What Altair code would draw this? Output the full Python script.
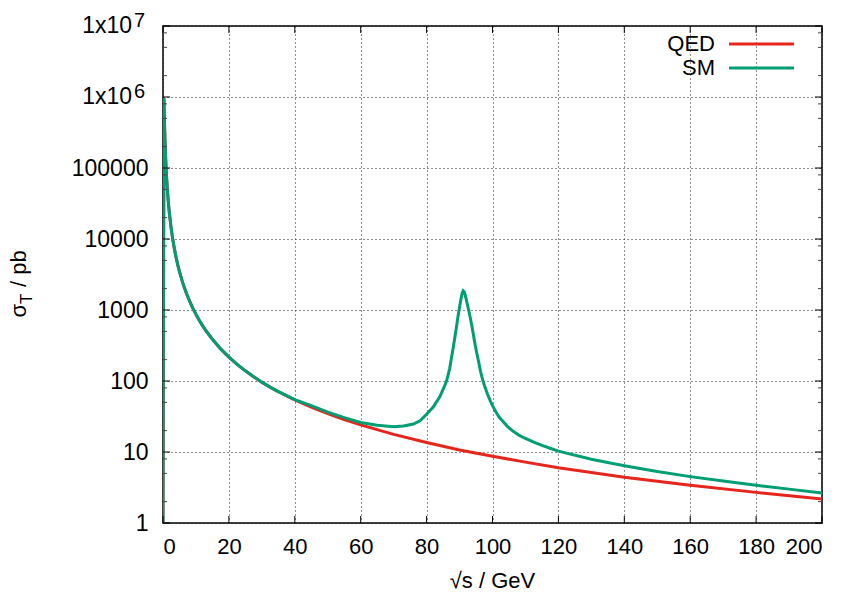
import altair as alt
import pandas as pd

# ---- data ----
qed_x = [0, 0.3, 0.4, 0.5, 0.7, 1, 1.2, 1.5, 1.7, 2, 2.5, 3, 3.5, 4, 4.5, 5, 6, 7, 8, 9, 10, 11,
         12, 13, 15, 17.5, 20, 22.5, 25, 27.5, 30, 32.5, 35, 40, 45, 50, 55, 60, 70, 80, 90, 100,
         110, 120, 140, 160, 180, 200]
qed_y = [1, 960000, 540000, 350000, 178000, 87000, 60300, 38600, 30000, 21700, 13900, 9650,
         7090, 5430, 4290, 3470, 2410, 1770, 1360, 1070, 868, 717, 603, 514, 386, 283, 217, 171,
         139, 115, 96.4, 82, 70.9, 54.3, 42.9, 34.7, 28.7, 24.1, 17.7, 13.6, 10.7, 8.7, 7.2,
         6.0, 4.4, 3.4, 2.7, 2.17]

sm_x = [0, 0.3, 0.4, 0.5, 0.7, 1, 1.2, 1.5, 1.7, 2, 2.5, 3, 3.5, 4, 4.5, 5, 6, 7, 8, 9, 10, 11,
        12, 13, 15, 17.5, 20, 22.5, 25, 27.5, 30, 32.5, 35, 40, 45, 50, 55, 60, 65, 70, 73, 76,
        78, 80, 82, 84, 85, 85.5, 86, 86.5, 87, 87.5, 88, 88.5, 89, 89.5, 90, 90.5, 90.8, 91.1,
        91.4, 91.7, 92, 92.4, 92.8, 93.3, 93.7, 94.2, 94.7, 95.2, 95.8, 96.4, 97, 97.7, 98.5,
        99.3, 100, 101, 102, 103, 104.5, 106, 108, 110, 112.5, 115, 117.5, 120, 130, 140, 150,
        160, 170, 180, 190, 200]
sm_y = [1, 960000, 540000, 350000, 178000, 87000, 60300, 38600, 30000, 21700, 13900, 9650,
        7090, 5430, 4290, 3470, 2410, 1770, 1360, 1070, 868, 717, 603, 514, 386, 283, 217, 171,
        139, 115, 96.4, 82, 70.9, 54.5, 45, 36.5, 30.5, 26, 23.8, 22.7, 23.2, 24.8, 27.5, 34,
        43, 60, 76, 86, 98, 120, 150, 205, 280, 390, 550, 800, 1100, 1480, 1720, 1870, 1820,
        1640, 1420, 1180, 980, 760, 610, 450, 330, 250, 185, 135, 105, 82, 65, 53, 45, 37, 31,
        27.5, 23, 20, 17.3, 15.5, 13.8, 12.4, 11.3, 10.3, 7.9, 6.4, 5.3, 4.5, 3.9, 3.4, 3.0,
        2.65]

x_ticks = [0, 20, 40, 60, 80, 100, 120, 140, 160, 180, 200]
y_major = [1, 10, 100, 1000, 10000, 100000, 1000000, 10000000]
y_minor_factors = [2, 5, 8]
y_sup_vals = [1000000, 10000000]
y_sup_text = ["6", "7"]
series_names = ["QED", "SM"]
series_colors = ["#e6261c", "#009e73"]

W, H = 659, 497
FONT = "Liberation Sans"
FS = 22
FSY = 23

y_minor = [d * f for d in y_major[:-1] for f in y_minor_factors]

xs = alt.Scale(domain=[0, 200], nice=False, zero=False)
ys = alt.Scale(type="log", domain=[1, 1e7], nice=False)

qed_df = pd.DataFrame({"x": qed_x, "y": qed_y})
sm_df = pd.DataFrame({"x": sm_x, "y": sm_y})

label_expr = "datum.value >= 1e6 ? '' : format(datum.value, 'd')"

base_x = alt.X("x:Q", scale=xs,
               axis=alt.Axis(values=x_ticks, title=None, ticks=False, domain=False,
                             grid=True, gridDash=[1, 3], gridColor="#222", gridWidth=1,
                             labelFont=FONT, labelFontSize=FS, labelColor="black",
                             labelPadding=13, format="d"))
base_y = alt.Y("y:Q", scale=ys,
               axis=alt.Axis(values=y_major, title=None, ticks=False, domain=False,
                             grid=True, gridDash=[1, 3], gridColor="#222", gridWidth=1,
                             labelFont=FONT, labelFontSize=FSY, labelColor="black",
                             labelPadding=15, labelExpr=label_expr))

qed_line = alt.Chart(qed_df).mark_line(color=series_colors[0], strokeWidth=3, clip=True).encode(
    x=base_x, y=base_y, order="x:Q")
sm_line = alt.Chart(sm_df).mark_line(color=series_colors[1], strokeWidth=3, clip=True).encode(
    x=alt.X("x:Q", scale=xs), y=alt.Y("y:Q", scale=ys), order="x:Q")

# "1x10^n" labels with raised exponent
sup_df = pd.DataFrame({"y": y_sup_vals, "e": y_sup_text})
sup_base = alt.Chart(sup_df).mark_text(text="1x10", font=FONT, fontSize=FSY, align="right",
                                       baseline="middle", color="black").encode(
    y=alt.Y("y:Q", scale=ys), x=alt.value(-31))
sup_exp = alt.Chart(sup_df).mark_text(font=FONT, fontSize=20, align="left", baseline="middle",
                                      dy=-5, color="black").encode(
    y=alt.Y("y:Q", scale=ys), x=alt.value(-29), text="e:N")

# inward ticks (gnuplot style), on all four sides
xt = pd.DataFrame({"x": x_ticks})
xt_bottom = alt.Chart(xt).mark_rule(color="black", strokeWidth=1).encode(
    x=alt.X("x:Q", scale=xs), y=alt.value(H), y2=alt.value(H - 7))
xt_top = alt.Chart(xt).mark_rule(color="black", strokeWidth=1).encode(
    x=alt.X("x:Q", scale=xs), y=alt.value(0), y2=alt.value(7))
ytM = pd.DataFrame({"y": y_major})
ytm = pd.DataFrame({"y": y_minor})
yt_left = alt.Chart(ytM).mark_rule(color="black", strokeWidth=1).encode(
    y=alt.Y("y:Q", scale=ys), x=alt.value(0), x2=alt.value(7))
yt_right = alt.Chart(ytM).mark_rule(color="black", strokeWidth=1).encode(
    y=alt.Y("y:Q", scale=ys), x=alt.value(W), x2=alt.value(W - 7))
ytm_left = alt.Chart(ytm).mark_rule(color="#444", strokeWidth=1).encode(
    y=alt.Y("y:Q", scale=ys), x=alt.value(0), x2=alt.value(4))
ytm_right = alt.Chart(ytm).mark_rule(color="#444", strokeWidth=1).encode(
    y=alt.Y("y:Q", scale=ys), x=alt.value(W), x2=alt.value(W - 4))

# legend
one = pd.DataFrame({"a": [0]})
leg = []
for i, (nm, col) in enumerate(zip(series_names, series_colors)):
    yy = 18 + 24 * i
    leg.append(alt.Chart(one).mark_text(text=nm, font=FONT, fontSize=FS, align="right",
                                        baseline="middle", color="black").encode(
        x=alt.value(552), y=alt.value(yy)))
    leg.append(alt.Chart(one).mark_rule(color=col, strokeWidth=3).encode(
        x=alt.value(566), x2=alt.value(631), y=alt.value(yy)))

# axis titles
xtitle = alt.Chart(one).mark_text(text="\u221As / GeV", font=FONT, fontSize=FS, align="center",
                                  baseline="alphabetic", color="black").encode(
    x=alt.value(W / 2), y=alt.value(562))
ax, ay = -137, 278
yt1 = alt.Chart(one).mark_text(text="\u03c3", font=FONT, fontSize=FS, align="right",
                               baseline="alphabetic", angle=270, color="black").encode(
    x=alt.value(ax), y=alt.value(ay))
yt2 = alt.Chart(one).mark_text(text="T", font=FONT, fontSize=17, align="left",
                               baseline="alphabetic", angle=270, dy=6, color="black").encode(
    x=alt.value(ax), y=alt.value(ay))
yt3 = alt.Chart(one).mark_text(text="/ pb", font=FONT, fontSize=FS, align="left",
                               baseline="alphabetic", angle=270, dx=17, color="black").encode(
    x=alt.value(ax), y=alt.value(ay))

chart = alt.layer(
    qed_line, sm_line, xt_bottom, xt_top, yt_left, yt_right, ytm_left, ytm_right,
    sup_base, sup_exp, *leg, xtitle, yt1, yt2, yt3
).properties(
    width=W, height=H,
    autosize=alt.AutoSizeParams(type="none"),
    padding={"left": 163, "top": 26, "right": 24, "bottom": 72},
    background="white",
).configure_view(stroke="black", strokeWidth=1.5)

chart.save("out.html", embed_options={"renderer": "svg", "actions": False})
